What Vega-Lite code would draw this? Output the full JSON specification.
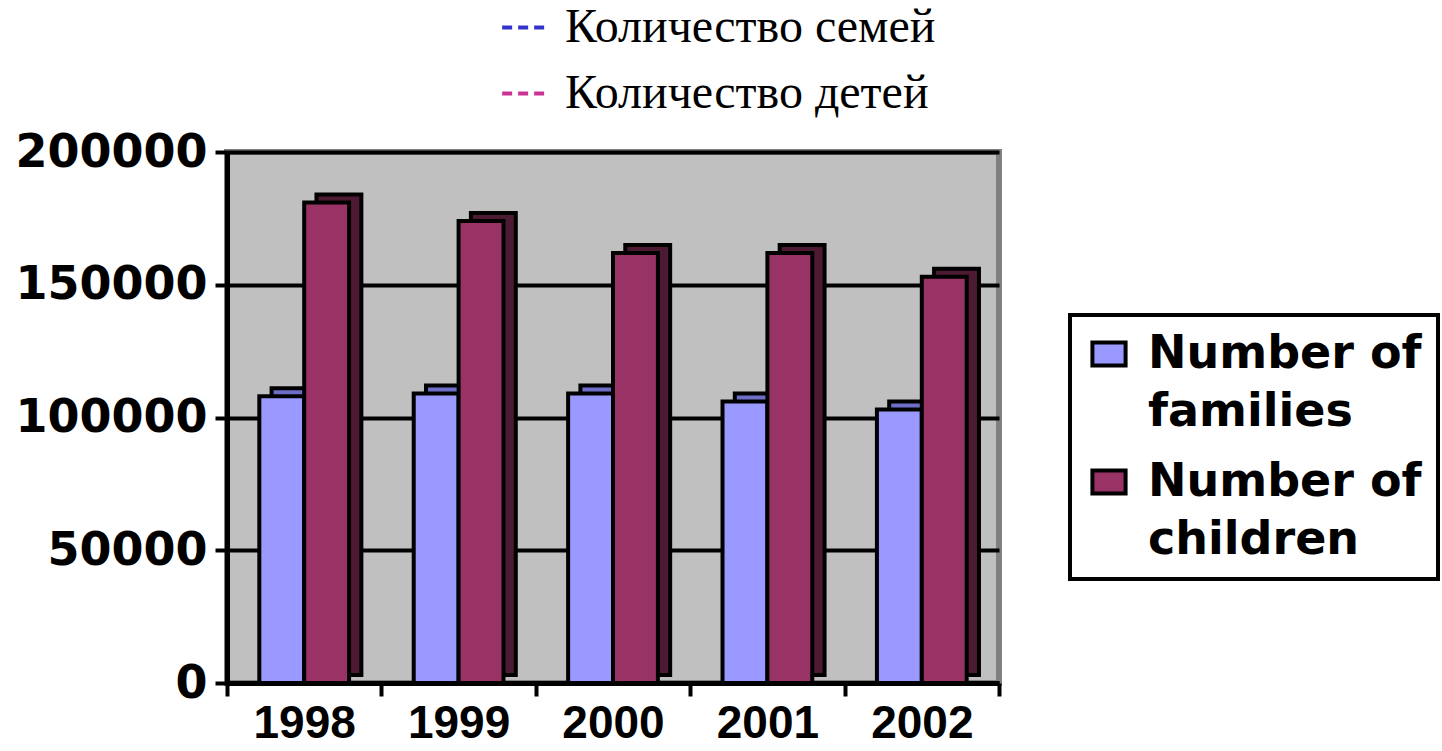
{
  "$schema": "https://vega.github.io/schema/vega-lite/v6.json",
  "width": 772,
  "height": 531,
  "autosize": {"type": "none"},
  "padding": {"left": 227, "top": 152, "right": 443, "bottom": 68},
  "background": "white",
  "config": {
    "view": {"fill": "#C0C0C0", "stroke": "#808080", "strokeWidth": 6}
  },
  "data": {
    "values": [
      {"year": "1998", "series": "Number of families", "series_ru": "Количество семей", "value": 108000},
      {"year": "1998", "series": "Number of children", "series_ru": "Количество детей", "value": 181000},
      {"year": "1999", "series": "Number of families", "series_ru": "Количество семей", "value": 109000},
      {"year": "1999", "series": "Number of children", "series_ru": "Количество детей", "value": 174000},
      {"year": "2000", "series": "Number of families", "series_ru": "Количество семей", "value": 109000},
      {"year": "2000", "series": "Number of children", "series_ru": "Количество детей", "value": 162000},
      {"year": "2001", "series": "Number of families", "series_ru": "Количество семей", "value": 106000},
      {"year": "2001", "series": "Number of children", "series_ru": "Количество детей", "value": 162000},
      {"year": "2002", "series": "Number of families", "series_ru": "Количество семей", "value": 103000},
      {"year": "2002", "series": "Number of children", "series_ru": "Количество детей", "value": 153000}
    ]
  },
  "encoding": {
    "x": {
      "field": "year",
      "type": "nominal",
      "scale": {"paddingInner": 0, "paddingOuter": 0},
      "axis": {
        "title": null,
        "labelAngle": 0,
        "labelFont": "Liberation Sans",
        "labelFontWeight": "bold",
        "labelFontSize": 46,
        "labelColor": "black",
        "labelPadding": 5,
        "tickBand": "extent",
        "domainColor": "black",
        "domainWidth": 5,
        "tickColor": "black",
        "tickWidth": 4,
        "tickSize": 13,
        "grid": false
      }
    },
    "y": {
      "field": "value",
      "type": "quantitative",
      "scale": {"domain": [0, 200000], "nice": false},
      "axis": {
        "title": null,
        "values": [0, 50000, 100000, 150000, 200000],
        "format": "d",
        "labelFont": "DejaVu Sans",
        "labelFontWeight": "bold",
        "labelFontSize": 46,
        "labelLimit": 400,
        "labelColor": "black",
        "labelPadding": 8,
        "domainColor": "black",
        "domainWidth": 5,
        "tickColor": "black",
        "tickWidth": 4,
        "tickSize": 12,
        "grid": true,
        "gridColor": "black",
        "gridWidth": 4,
        "gridOpacity": 1
      }
    }
  },
  "layer": [
    {
      "mark": {"type": "bar", "yOffset": -8, "stroke": "black", "strokeWidth": 4},
      "encoding": {
        "xOffset": {
          "field": "series",
          "type": "nominal",
          "sort": ["Number of families", "Number of children"],
          "scale": {"paddingInner": 0, "paddingOuter": 0.72, "align": 0.69}
        },
        "fill": {
          "condition": {"test": "datum.series == 'Number of children'", "value": "#4D1A33"},
          "value": "#6E6EC8"
        }
      }
    },
    {
      "mark": {"type": "bar", "stroke": "black", "strokeWidth": 4},
      "encoding": {
        "xOffset": {
          "field": "series",
          "type": "nominal",
          "sort": ["Number of families", "Number of children"],
          "scale": {"paddingInner": 0, "paddingOuter": 0.72}
        },
        "fill": {
          "field": "series",
          "type": "nominal",
          "scale": {"domain": ["Number of families", "Number of children"], "range": ["#9999FF", "#993366"]},
          "legend": {
            "title": null,
            "orient": "none",
            "legendX": 843,
            "legendY": 163,
            "strokeColor": "black",
            "padding": 16,
            "symbolType": "M-1,-0.7H1V0.7H-1Z",
            "symbolSize": 1100,
            "symbolStrokeColor": "black",
            "symbolStrokeWidth": 4,
            "symbolOpacity": 1,
            "labelFont": "DejaVu Sans",
            "labelFontWeight": "bold",
            "labelFontSize": 46,
            "labelColor": "black",
            "labelLimit": 600,
            "labelOffset": 16,
            "rowPadding": 24,
            "labelExpr": "datum.label == 'Number of families' ? ['Number of', 'families'] : ['Number of', 'children']",
            "encode": {
              "legend": {"update": {"strokeWidth": {"value": 4}}},
              "labels": {"update": {"lineHeight": {"value": 58}}}
            }
          }
        }
      }
    },
    {
      "mark": {"type": "line", "opacity": 0},
      "encoding": {
        "xOffset": {
          "field": "series",
          "type": "nominal",
          "sort": ["Number of families", "Number of children"],
          "scale": {"paddingInner": 0, "paddingOuter": 0.72}
        },
        "stroke": {
          "field": "series_ru",
          "type": "nominal",
          "scale": {"domain": ["Количество семей", "Количество детей"], "range": ["#3333CC", "#CC3399"]},
          "legend": {
            "title": null,
            "orient": "none",
            "legendX": 273,
            "legendY": -149,
            "symbolType": "stroke",
            "symbolSize": 2000,
            "symbolStrokeWidth": 4,
            "symbolDash": [10, 6],
            "symbolOpacity": 1,
            "labelFont": "Liberation Serif",
            "labelFontSize": 48,
            "labelColor": "black",
            "labelLimit": 600,
            "labelOffset": 16,
            "rowPadding": 17
          }
        }
      }
    }
  ],
  "resolve": {"scale": {"xOffset": "independent"}}
}
